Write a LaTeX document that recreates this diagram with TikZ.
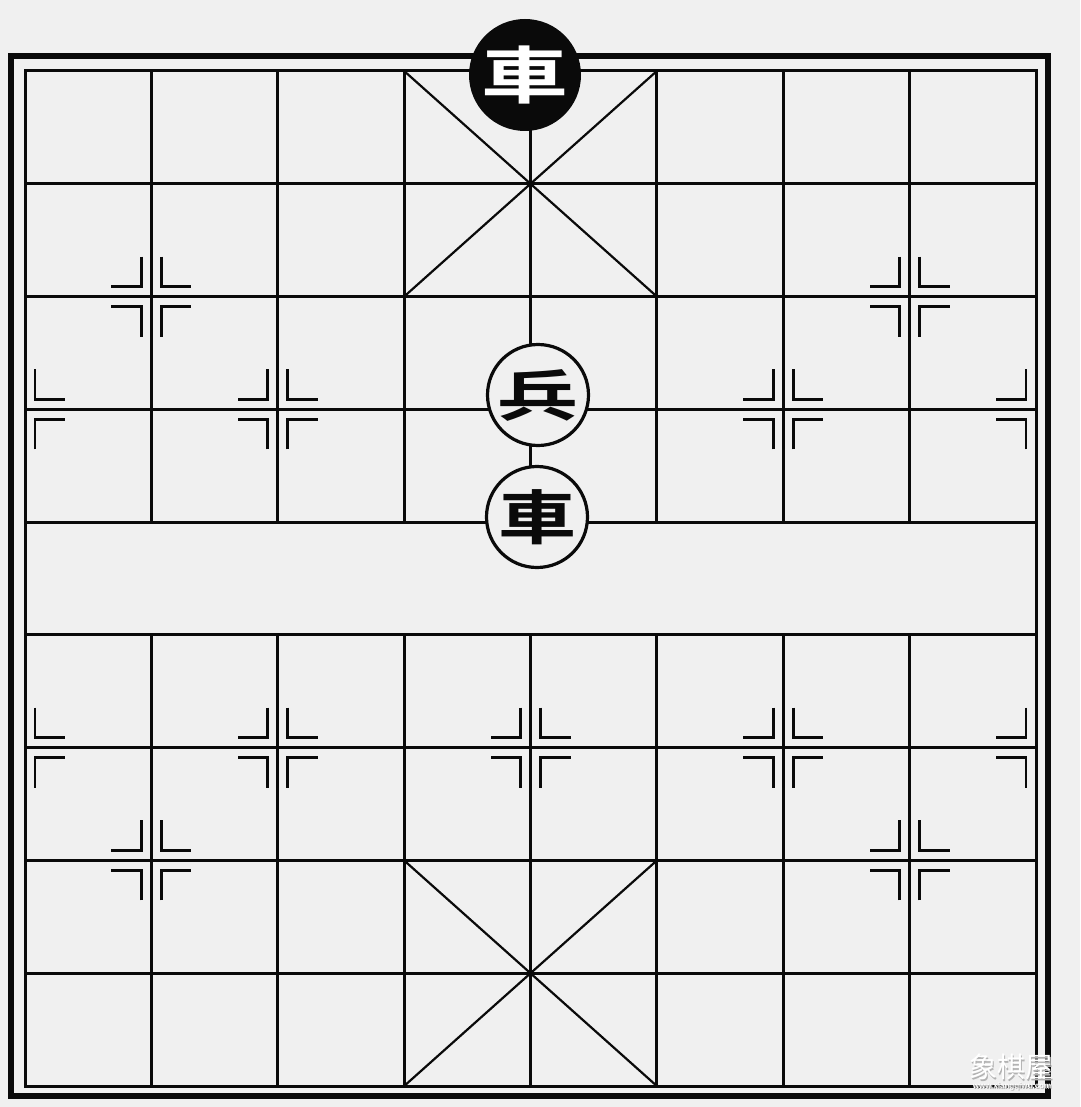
\documentclass[tikz,border=0pt]{standalone}
\usepackage{fontspec}
\newfontfamily\cjk{Noto Sans CJK TC}[BoldFont={* Bold}]
\setsansfont{Liberation Sans}
\definecolor{bgc}{HTML}{F0F0F0}
\definecolor{ink}{HTML}{0A0A0A}
\tikzset{
  grid/.style={line width=3pt, draw=ink},
  diag/.style={line width=2.2pt, draw=ink},
  mk/.style={line width=2.8pt, draw=ink},
  rmark/.pic={\draw[mk] (10,-40) -- (10,-10) -- (40,-10); \draw[mk] (10,40) -- (10,10) -- (40,10);},
  lmark/.pic={\draw[mk] (-10,-40) -- (-10,-10) -- (-40,-10); \draw[mk] (-10,40) -- (-10,10) -- (-40,10);},
  redpiece/.style={circle, draw=ink, line width=3.2pt, fill=bgc, minimum size=101pt, inner sep=0pt, text=ink, font=\cjk\bfseries\fontsize{60}{60}\selectfont},
  blackpiece/.style={circle, fill=ink, minimum size=112pt, inner sep=0pt, text=white, font=\cjk\bfseries\fontsize{62}{62}\selectfont}
}
\begin{document}
\begin{tikzpicture}[x=1pt,y=-1pt]
\fill[bgc] (0,0) rectangle (1080,1107);
\useasboundingbox (0,0) rectangle (1080,1107);
% outer thick frame
\draw[line width=6pt, draw=ink] (11,56) rectangle (1048,1096);
% board grid
\begin{scope}[shift={(25,71)}, x=126.375pt, y=-112.78pt]
  \draw[grid] (0,0) rectangle (8,9);
  \foreach \r in {1,...,8} \draw[grid] (0,\r) -- (8,\r);
  \foreach \c in {1,...,7} {\draw[grid] (\c,0) -- (\c,4); \draw[grid] (\c,5) -- (\c,9);}
  \draw[diag] (3,0) -- (5,2); \draw[diag] (5,0) -- (3,2);
  \draw[diag] (3,7) -- (5,9); \draw[diag] (5,7) -- (3,9);
\end{scope}
% position marks
\foreach \c/\r in {1/2,7/2,2/3,6/3,1/7,7/7,2/6,4/6,6/6} {
  \pic at ({25+\c*126.375},{71+\r*112.78}) {lmark};
  \pic at ({25+\c*126.375},{71+\r*112.78}) {rmark};
}
\foreach \r in {3,6} {
  \pic at (25,{71+\r*112.78}) {rmark};
  \pic at (1036,{71+\r*112.78}) {lmark};
}
% pieces
\node[blackpiece] (bche) at (525,75) {\scalebox{1.4}[1.0]{車}};
\node[redpiece] (bing) at (538,395) {\scalebox{1.35}[0.92]{兵}};
\node[redpiece] (rche) at (537,517) {\scalebox{1.3}[0.98]{車}};
% watermark
\node[text=gray!60, font=\cjk\fontsize{28}{28}\selectfont] (wm1s) at (1012.5,1068.5) {象棋屋};
\node[text=white, font=\cjk\fontsize{28}{28}\selectfont] (wm1) at (1011,1067) {象棋屋};
\node[text=gray!60, font=\sffamily\bfseries\fontsize{8}{8}\selectfont] (wm2s) at (1013,1087) {www.xiangqiwu.com};
\node[text=white, font=\sffamily\bfseries\fontsize{8}{8}\selectfont] (wm2) at (1012,1086) {www.xiangqiwu.com};
\end{tikzpicture}
\end{document}
